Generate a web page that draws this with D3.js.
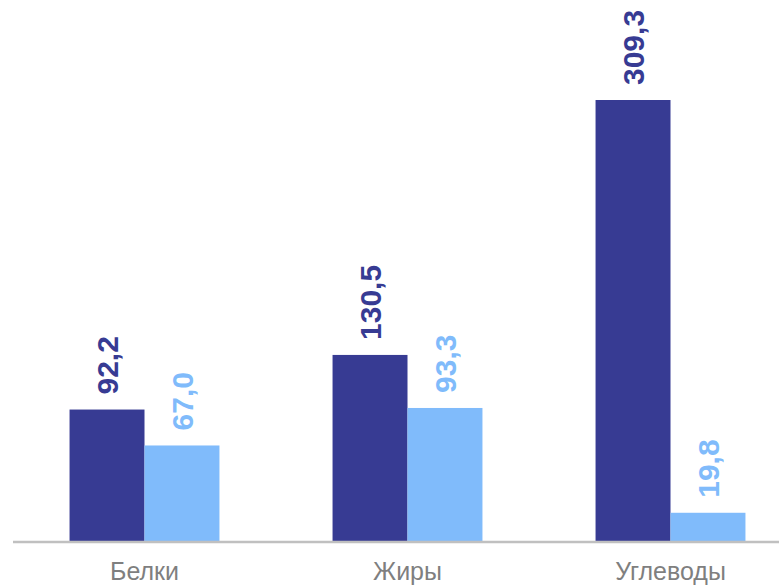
<!DOCTYPE html>
<html>
<head>
<meta charset="utf-8">
<script src="https://cdn.jsdelivr.net/npm/d3@7.9.0/dist/d3.min.js"></script>
<style>
  html, body { margin: 0; padding: 0; background: #fff; }
  svg { display: block; font-family: "Liberation Sans", Arial, sans-serif; }
</style>
</head>
<body>
<svg id="chart" width="779" height="587"></svg>
<script>
// data
const categories = ['Белки', 'Жиры', 'Углеводы'];
const seriesNames = ['a', 'b'];
const seriesA = [92.2, 130.5, 309.3];
const seriesB = [67.0, 93.3, 19.8];

const colors = d3.scaleOrdinal().domain(seriesNames).range(['#373b93', '#80bbfb']);
const fmt = d3.format('.1f');
const comma = (v) => fmt(v).replace('.', ',');

const svg = d3.select('#chart');
const baseY = 541;

// outer band: one per category, inner band: one per series
const x0 = d3.scaleBand()
  .domain(categories)
  .range([13, 802])
  .paddingInner(0.43)
  .paddingOuter(0.215);

const x1 = d3.scaleBand()
  .domain(seriesNames)
  .range([0, x0.bandwidth()]);

const y = d3.scaleLinear()
  .domain([0, 309.3])
  .range([baseY, 100]);

const rows = categories.map((c, i) => ({
  cat: c,
  values: [
    { key: 'a', value: seriesA[i] },
    { key: 'b', value: seriesB[i] },
  ],
}));

const groups = svg.selectAll('g.cat')
  .data(rows)
  .join('g')
  .attr('class', 'cat')
  .attr('transform', (d) => `translate(${x0(d.cat)},0)`);

groups.selectAll('rect')
  .data((d) => d.values)
  .join('rect')
  .attr('x', (d) => x1(d.key))
  .attr('y', (d) => y(d.value))
  .attr('width', x1.bandwidth())
  .attr('height', (d) => baseY - y(d.value))
  .attr('fill', (d) => colors(d.key));

// rotated value labels
groups.selectAll('text.val')
  .data((d) => d.values)
  .join('text')
  .attr('class', 'val')
  .attr('transform', (d) => `translate(${x1(d.key) + x1.bandwidth() / 2},${y(d.value) - 15}) rotate(-90)`)
  .attr('dy', '0.36em')
  .attr('text-anchor', 'start')
  .attr('font-size', 30)
  .attr('font-weight', 'bold')
  .attr('fill', (d) => colors(d.key))
  .text((d) => comma(d.value));

// baseline
svg.append('line')
  .attr('x1', 13)
  .attr('x2', 779)
  .attr('y1', baseY + 1)
  .attr('y2', baseY + 1)
  .attr('stroke', '#c0c0c0')
  .attr('stroke-width', 2.5);

// category labels
const xAxis = d3.axisBottom(x0).tickSize(0).tickPadding(0);
const ax = svg.append('g')
  .attr('transform', `translate(0,${baseY})`)
  .call(xAxis);
ax.select('.domain').remove();
ax.selectAll('text')
  .attr('y', 39)
  .attr('dy', 0)
  .attr('font-size', 25)
  .attr('font-family', '"Liberation Sans", Arial, sans-serif')
  .attr('fill', '#7f7f7f');
</script>
</body>
</html>
